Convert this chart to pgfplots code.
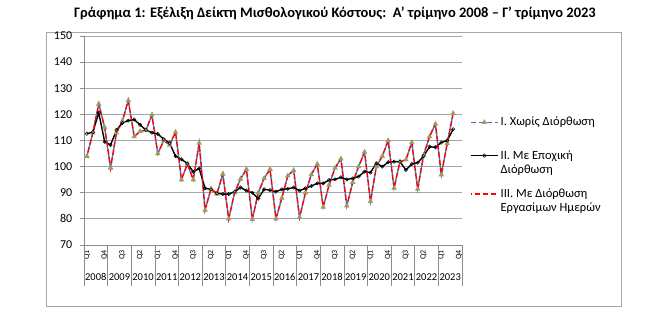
\documentclass[border=0pt]{standalone}
\usepackage{fontspec}
\setmainfont{Carlito}
\usepackage{pgfplots}
\pgfplotsset{compat=1.18}
\usepackage{pgfplotstable}
\definecolor{serblue}{HTML}{3C7FC4}
\definecolor{sertri}{HTML}{9C9C62}
\definecolor{gridgray}{HTML}{A6A6A6}
\definecolor{axgray}{HTML}{8C8C8C}
\pgfplotstableread{
x I II III
0 104.0 112.6 104.0
1 113.0 113.2 113.0
2 124.0 120.6 124.0
3 115.0 109.5 115.0
4 99.5 108.3 99.5
5 113.0 114.0 113.0
6 117.5 116.7 117.5
7 125.3 117.6 125.3
8 111.5 118.0 111.5
9 113.5 116.0 113.5
10 114.0 114.0 114.0
11 119.8 113.0 119.8
12 105.0 112.5 105.0
13 110.0 110.5 110.0
14 108.3 109.0 108.3
15 113.2 104.0 113.2
16 95.0 102.8 95.0
17 101.0 101.2 101.0
18 95.0 98.0 95.0
19 109.0 99.3 109.0
20 83.4 91.7 83.4
21 91.5 91.3 91.5
22 89.5 89.8 89.5
23 97.2 89.5 97.2
24 80.0 89.5 80.0
25 90.0 90.4 90.0
26 95.3 92.0 95.3
27 99.0 90.8 99.0
28 79.8 90.0 79.8
29 90.0 87.8 90.0
30 95.5 91.3 95.5
31 99.0 91.0 99.0
32 80.0 90.4 80.0
33 88.0 91.3 88.0
34 96.5 91.5 96.5
35 98.6 92.0 98.6
36 80.6 90.8 80.6
37 90.0 91.7 90.0
38 97.0 92.6 97.0
39 101.0 93.6 101.0
40 84.5 93.6 84.5
41 93.0 94.9 93.0
42 99.5 95.1 99.5
43 103.0 95.9 103.0
44 85.0 95.1 85.0
45 94.0 95.5 94.0
46 100.0 96.2 100.0
47 105.6 98.1 105.6
48 86.7 97.7 86.7
49 100.0 101.3 100.0
50 104.0 100.0 104.0
51 110.0 101.7 110.0
52 91.8 101.9 91.8
53 101.9 101.9 101.9
54 102.6 98.7 102.6
55 109.2 101.0 109.2
56 91.4 101.5 91.4
57 104.5 104.0 104.5
58 111.5 107.6 111.5
59 116.3 107.4 116.3
60 96.9 109.2 96.9
61 108.9 110.0 108.9
62 120.4 114.3 120.4
}\datatable
\newcommand{\lgd}[1]{\begin{tabular}[t]{@{}l@{}}#1\end{tabular}}
\begin{document}
\begin{tikzpicture}
\useasboundingbox (0pt,0pt) rectangle (670pt,321pt);
\fill[white] (0pt,0pt) rectangle (670pt,321pt);
\draw[color=gridgray, line width=0.9pt] (46pt,15pt) rectangle (621pt,289pt);
\node[font=\bfseries\fontsize{14.5}{16}\selectfont] at (335pt,308pt) {Γράφημα 1: Εξέλιξη Δείκτη Μισθολογικού Κόστους:\ \ Α’ τρίμηνο 2008 – Γ’ τρίμηνο 2023};
\begin{axis}[
  at={(84pt,76pt)}, anchor=south west,
  scale only axis, width=378pt, height=209pt,
  xmin=-0.5, xmax=63.5, ymin=70, ymax=150,
  ytick={70,80,...,150},
  ymajorgrids, grid style={gridgray, line width=0.9pt},
  axis x line*=bottom, axis y line*=left,
  axis line style={axgray, line width=0.9pt, -},
  tick align=outside,
  ytick style={axgray, line width=0.8pt, /pgfplots/major tick length=4pt},
  xtick={0,3,...,63},
  xticklabels={Q1,Q4,Q3,Q2,Q1,Q4,Q3,Q2,Q1,Q4,Q3,Q2,Q1,Q4,Q3,Q2,Q1,Q4,Q3,Q2,Q1,Q4},
  xtick style={draw=none},
  minor xtick={-0.5,0.5,...,63.5},
  minor x tick style={axgray, line width=0.7pt, /pgfplots/minor tick length=17pt},
  extra x ticks={-0.5,3.5,...,63.5},
  extra x tick labels={},
  extra x tick style={grid=none, xtick style={axgray, line width=0.7pt, draw=axgray, /pgfplots/major tick length=41pt}},
  xticklabel style={rotate=90, anchor=east, font=\fontsize{8}{9}\selectfont, inner sep=1pt},
  yticklabel style={font=\fontsize{12}{14}\selectfont, xshift=-4pt},
  /pgf/number format/assume math mode=true,
  clip=false,
  legend style={at={(1.021,0.627)}, anchor=north west, draw=none, fill=none,
     font=\fontsize{12.5}{14}\selectfont, nodes={anchor=base west}, row sep=17pt, inner sep=0pt},
  legend cell align=left,
  legend image code/.code={\draw[mark repeat=2,mark phase=2,yshift=3.6pt,#1] plot coordinates {(0pt,0pt)(13.5pt,0pt)(27pt,0pt)};},
]
\addplot[serblue, line width=1.4pt, dash pattern=on 5pt off 3pt, mark=triangle*, mark size=1.8pt, mark options={solid, fill=sertri, draw=sertri}] table[x=x,y=I]{\datatable};
\addlegendentry{\lgd{I. Χωρίς Διόρθωση\\\mbox{}}}
\addplot[black, line width=1.4pt, mark=o, mark size=1.7pt, mark options={solid, fill=white, line width=0.5pt}] table[x=x,y=II]{\datatable};
\addlegendentry{\lgd{\rule{0pt}{10.8pt}II. Με Εποχική\\Διόρθωση}}
\addplot[red, line width=1.5pt, dash pattern=on 5pt off 3pt, dash phase=4pt, mark=none] table[x=x,y=III]{\datatable};
\addlegendentry{\lgd{\rule{0pt}{15.8pt}III. Με Διόρθωση\\Εργασίμων Ημερών}}
\pgfplotsinvokeforeach{0,...,15}{
  \node[font=\fontsize{10.5}{12}\selectfont, inner sep=0pt] at (axis cs:{4*#1+1.5},70) [yshift=-32pt] {\the\numexpr2008+#1\relax};
}
\end{axis}
\end{tikzpicture}
\end{document}
